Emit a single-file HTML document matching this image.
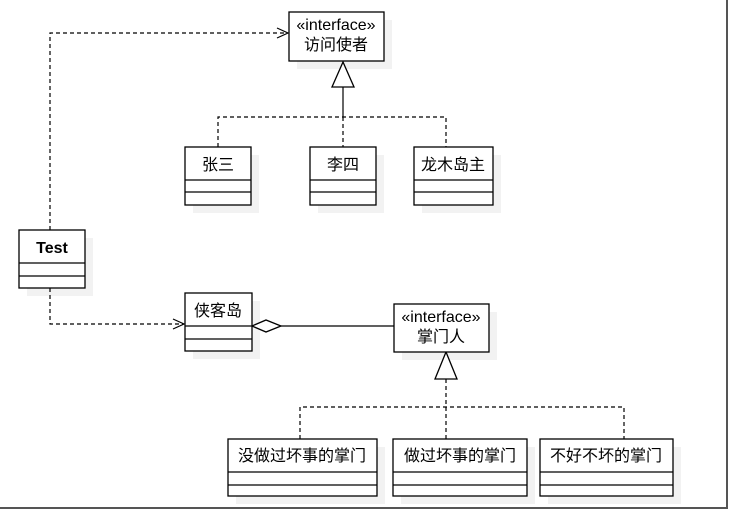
<!DOCTYPE html>
<html><head><meta charset="utf-8"><style>
html,body{margin:0;padding:0;background:#fff;}
svg{display:block;}
text{font-family:"Liberation Sans","Noto Sans CJK SC",sans-serif;font-size:16px;fill:#000;}
</style></head><body>
<svg width="730" height="511" viewBox="0 0 730 511" xmlns="http://www.w3.org/2000/svg">
<line x1="727" y1="0" x2="727" y2="509" stroke="#555" stroke-width="2"/>
<line x1="0" y1="508" x2="728" y2="508" stroke="#555" stroke-width="2"/>
<g fill="#f2f2f2">
<rect x="297" y="20" width="95" height="49"/>
<rect x="193" y="155" width="66" height="58"/>
<rect x="318" y="155" width="66" height="58"/>
<rect x="422" y="155" width="79" height="58"/>
<rect x="27" y="238" width="66" height="58"/>
<rect x="193" y="301" width="67" height="58"/>
<rect x="402" y="312" width="95" height="48"/>
<rect x="236" y="447" width="149" height="57"/>
<rect x="401" y="447" width="134" height="57"/>
<rect x="548" y="447" width="133" height="57"/>
</g>
<g fill="none" stroke="#000" stroke-width="1.2" stroke-dasharray="4,3">
<polyline points="50,230 50,33 287,33"/>
<polyline points="50,288 50,324 183,324"/>
<polyline points="218,147 218,117 446,117 446,147"/>
<line x1="343" y1="117" x2="343" y2="147"/>
<polyline points="300,439 300,407 624,407 624,439"/>
<line x1="446" y1="407" x2="446" y2="439"/>
<line x1="446" y1="379" x2="446" y2="407"/>
</g>
<g fill="none" stroke="#000" stroke-width="1.2">
<polyline points="277,28 288,33 277,38"/>
<polyline points="173,319 184,324 173,329"/>
<line x1="343" y1="87" x2="343" y2="117"/>
<line x1="281" y1="326" x2="394" y2="326"/>
</g>
<g fill="#fff" stroke="#000" stroke-width="1.3">
<polygon points="343,62 332,87 354,87"/>
<polygon points="446,352 435,379 457,379"/>
<polygon points="252,326 266,320 281,326 266,332"/>
<rect x="289" y="12" width="95" height="49"/>
<rect x="394" y="304" width="95" height="48"/>
<rect x="185" y="147" width="66" height="58"/>
<rect x="310" y="147" width="66" height="58"/>
<rect x="414" y="147" width="79" height="58"/>
<rect x="19" y="230" width="66" height="58"/>
<rect x="185" y="293" width="67" height="58"/>
<rect x="228" y="439" width="149" height="57"/>
<rect x="393" y="439" width="134" height="57"/>
<rect x="540" y="439" width="133" height="57"/>
</g>
<g stroke="#000" stroke-width="1.2">
<line x1="185" y1="180" x2="251" y2="180"/><line x1="185" y1="192" x2="251" y2="192"/>
<line x1="310" y1="180" x2="376" y2="180"/><line x1="310" y1="192" x2="376" y2="192"/>
<line x1="414" y1="180" x2="493" y2="180"/><line x1="414" y1="192" x2="493" y2="192"/>
<line x1="19" y1="263" x2="85" y2="263"/><line x1="19" y1="276" x2="85" y2="276"/>
<line x1="185" y1="326" x2="252" y2="326"/><line x1="185" y1="339" x2="252" y2="339"/>
<line x1="228" y1="472" x2="377" y2="472"/><line x1="228" y1="485" x2="377" y2="485"/>
<line x1="393" y1="472" x2="527" y2="472"/><line x1="393" y1="485" x2="527" y2="485"/>
<line x1="540" y1="472" x2="673" y2="472"/><line x1="540" y1="485" x2="673" y2="485"/>
</g>
<g text-anchor="middle">
<text x="336" y="30" font-size="15">«interface»</text>
<text x="336" y="50">访问使者</text>
<text x="441" y="322" font-size="15">«interface»</text>
<text x="441" y="342">掌门人</text>
<text x="218" y="170">张三</text>
<text x="343" y="170">李四</text>
<text x="453" y="170">龙木岛主</text>
<text x="52" y="253" font-weight="bold" font-size="15">Test</text>
<text x="218" y="316">侠客岛</text>
<text x="302" y="461">没做过坏事的掌门</text>
<text x="460" y="461">做过坏事的掌门</text>
<text x="606" y="461">不好不坏的掌门</text>
</g>
</svg>
</body></html>
